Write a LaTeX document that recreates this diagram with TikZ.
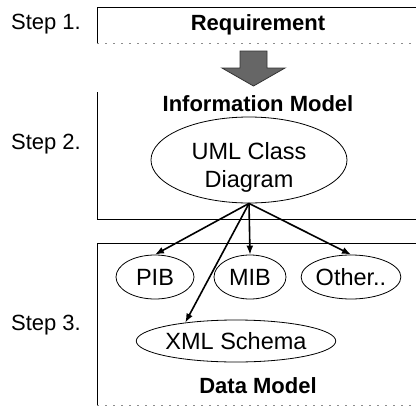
\documentclass[tikz,border=0pt]{standalone}
\usepackage{fontspec}
\setmainfont{Liberation Sans}
\usetikzlibrary{shapes.geometric,arrows.meta}
\begin{document}
\begin{tikzpicture}[x=1pt,y=-1pt,
  txt/.style={font=\fontsize{22}{27}\selectfont, inner sep=0pt},
  etxt/.style={font=\fontsize{23.5}{28}\selectfont, inner sep=0pt},
  btxt/.style={font=\fontsize{22}{27}\selectfont\bfseries, inner sep=0pt},
  oval/.style={ellipse, draw, line width=0.8pt, inner sep=0pt, font=\fontsize{23.5}{28}\selectfont},
  frame/.style={line width=1pt},
  faint/.style={line width=0.6pt, black!45, dash pattern=on 2pt off 6pt},
  conn/.style={line width=1.6pt, -{Latex[length=9pt,width=7pt]}}
]
\useasboundingbox (0,0) rectangle (416,408);
% step labels
\node[txt, anchor=east] (s1) at (81,24) {Step 1.};
\node[txt, anchor=east] (s2) at (81,144) {Step 2.};
\node[txt, anchor=east] (s3) at (81,325) {Step 3.};
% box 1
\draw[frame] (416,7) -- (97,7) -- (97,43);
\draw[faint] (97,43) -- (416,43);
\node[btxt] (req) at (258,25) {Requirement};
% block arrow
\draw[fill=black!60, draw=black!80, line width=0.8pt]
  (240,51) -- (267,51) -- (267,68) -- (285,68) -- (253.5,86) -- (222,68) -- (240,68) -- cycle;
% box 2
\draw[frame] (97,92) -- (97,219) -- (416,219);
\node[btxt] (info) at (258,104) {Information Model};
\node[oval, minimum width=196pt, minimum height=86pt] (uml) at (249,160) {};
\node[etxt, align=center] (umltxt) at (249,167) {UML Class\\Diagram};
% box 3
\draw[frame] (416,243) -- (97,243) -- (97,405);
\draw[faint] (97,405) -- (416,405);
\node[oval, minimum width=78pt, minimum height=44pt] (pib) at (155,277) {PIB};
\node[oval, minimum width=72pt, minimum height=44pt] (mib) at (250,277) {MIB};
\node[oval, minimum width=92pt, minimum height=44pt] (oth) at (351,277) {Other..};
\node[oval, minimum width=160pt, minimum height=42pt] (xml) at (236,341) {XML Schema};
\node[btxt] (data) at (258,386) {Data Model};
% connectors
\draw[conn] (uml.south) -- (pib.north);
\draw[conn] (uml.south) -- (mib.north);
\draw[conn] (uml.south) -- (oth.north);
\draw[conn] (uml.south) -- (xml.160);
\end{tikzpicture}
\end{document}
